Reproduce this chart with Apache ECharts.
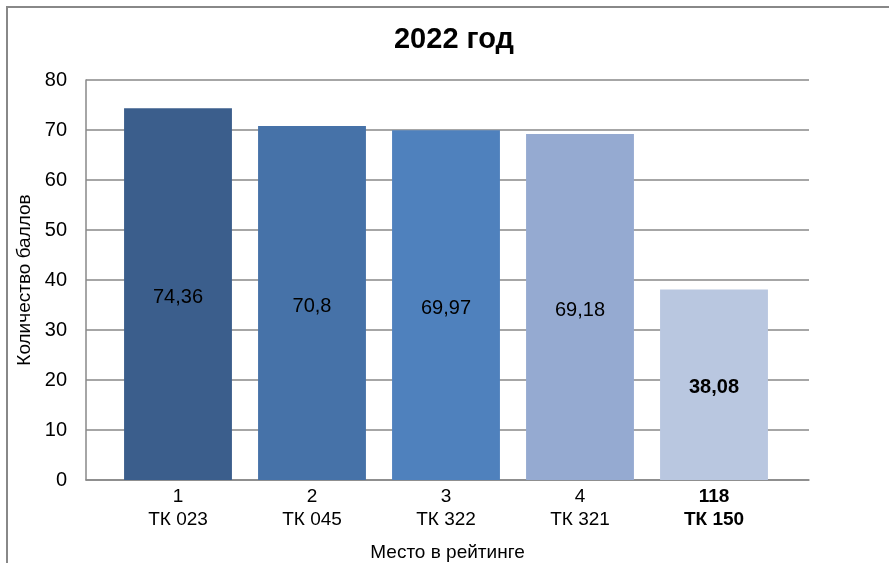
<!DOCTYPE html>
<html><head><meta charset="utf-8">
<script src="https://cdn.jsdelivr.net/npm/echarts@6/dist/echarts.min.js"></script>
<style>html,body{margin:0;padding:0;background:#fff}#c{width:889px;height:563px}</style>
</head><body><div id="c"></div>
<script>
const places = ['1', '2', '3', '4', '118'];
const names = ['ТК 023', 'ТК 045', 'ТК 322', 'ТК 321', 'ТК 150'];
const values = [74.36, 70.8, 69.97, 69.18, 38.08];
const barColors = ['#3B5E8C', '#4672A8', '#4F81BD', '#95AAD1', '#B9C7E0'];
const yTicks = [0, 10, 20, 30, 40, 50, 60, 70, 80];

const chart = echarts.init(document.getElementById('c'));
const F = 'Liberation Sans, Arial, sans-serif';
chart.setOption({
  animation: false,
  textStyle: { fontFamily: F },
  graphic: [{
    type: 'rect', z: -1,
    shape: { x: 7, y: 7, width: 1000, height: 700 },
    style: { fill: '#fff', stroke: '#888', lineWidth: 2 }
  }],
  title: {
    text: '2022 год', left: 449, top: 20, textAlign: 'center',
    textStyle: { fontFamily: F, fontWeight: 'bold', fontSize: 29, color: '#000' }
  },
  grid: [
    { left: 86, right: 80, top: 80, bottom: 83, outerBoundsMode: 'none', containLabel: false },
    { left: 111, right: 108, top: 80, bottom: 83, outerBoundsMode: 'none', containLabel: false }
  ],
  xAxis: [{
    gridIndex: 0, type: 'value', min: 0, max: 1,
    axisLabel: { show: false }, axisTick: { show: false }, splitLine: { show: false },
    axisLine: { show: true, lineStyle: { color: '#888', width: 1.5 } },
    name: 'Место в рейтинге', nameLocation: 'middle', nameGap: 63,
    nameTextStyle: { color: '#000', fontSize: 19, fontFamily: F }
  }, {
    gridIndex: 1, type: 'category',
    data: places.map((p, i) => p + '\n' + names[i]),
    axisTick: { show: false },
    axisLine: { show: false },
    axisLabel: {
      color: '#000', fontSize: 19, lineHeight: 23, margin: 5, fontFamily: F,
      formatter: (v, i) => i === places.length - 1 ? '{b|' + v.split('\n').join('}\n{b|') + '}' : v,
      rich: { b: { fontWeight: 'bold', fontSize: 19, lineHeight: 23, fontFamily: F, color: '#000' } }
    }
  }],
  yAxis: [{
    gridIndex: 0, type: 'value', min: 0, max: 80, interval: 10,
    axisLine: { show: true, lineStyle: { color: '#888', width: 1.5 } },
    axisTick: { show: false },
    splitLine: { lineStyle: { color: '#888', width: 1.5 } },
    axisLabel: { color: '#000', fontSize: 20, margin: 19, fontFamily: F,
      formatter: v => yTicks.includes(v) ? String(v) : '' },
    name: 'Количество баллов', nameLocation: 'middle', nameGap: 50,
    nameTextStyle: { color: '#000', fontSize: 19, fontFamily: F }
  }, {
    gridIndex: 1, type: 'value', min: 0, max: 80, interval: 10, show: false
  }],
  series: [{
    type: 'bar', xAxisIndex: 1, yAxisIndex: 1, barCategoryGap: '19.5%',
    data: values.map((v, i) => ({
      value: v,
      itemStyle: { color: barColors[i] },
      label: i === values.length - 1 ? { fontWeight: 'bold' } : {}
    })),
    label: {
      show: true, position: 'inside', offset: [0, 3], color: '#000', fontSize: 20, fontFamily: F,
      formatter: p => String(p.value).replace('.', ',')
    }
  }]
});
</script></body></html>
